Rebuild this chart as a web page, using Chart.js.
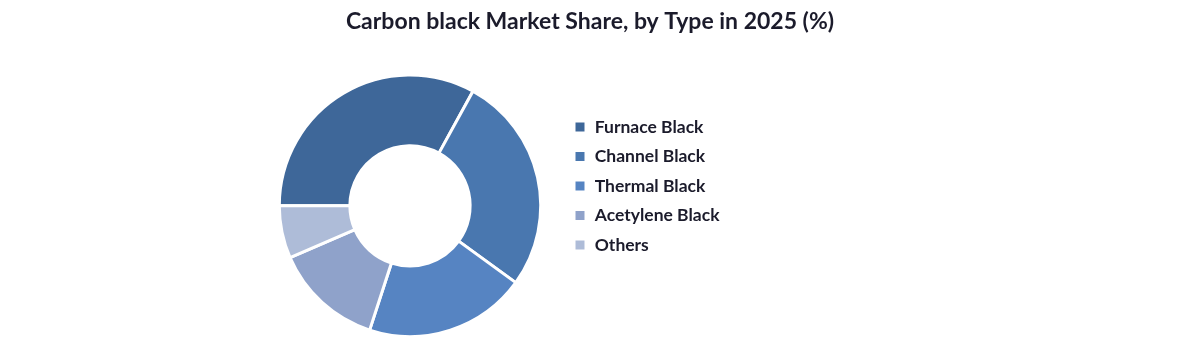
<!DOCTYPE html>
<html>
<head>
<meta charset="utf-8">
<script src="https://cdn.jsdelivr.net/npm/chart.js@4.4.1/dist/chart.umd.min.js"></script>
<style>
  html, body { margin: 0; padding: 0; background: #fff; }
  #wrap { width: 1180px; height: 344px; position: relative; }
</style>
</head>
<body>
<div id="wrap"><canvas id="share-chart"></canvas></div>
<script>
var labels = ['Furnace Black', 'Channel Black', 'Thermal Black', 'Acetylene Black', 'Others'];
var shares = [33, 27, 20, 13.5, 6.5];
var colors = ['#3e6799', '#4977af', '#5684c2', '#8fa2ca', '#aebcd8'];
var chartTitle = 'Carbon black Market Share, by Type in 2025 (%)';

// widen the legend box so the doughnut sits left while the title stays centred
const legendWidth = {
    id: 'legendWidth',
    beforeLayout(chart) {
        const legend = chart.legend;
        if (legend && !legend._patched) {
            const origFit = legend.fit;
            legend.fit = function () {
                origFit.call(this);
                this.width = 360;
            };
            legend._patched = true;
        }
    }
};

const ctx = document.getElementById('share-chart').getContext('2d');
var myChart = new Chart(ctx, {
    type: 'doughnut',
    data: {
        labels: labels,
        datasets: [{
            data: shares,
            backgroundColor: colors,
            borderColor: '#ffffff',
            borderWidth: 3
        }]
    },
    options: {
        responsive: true,
        maintainAspectRatio: false,
        animation: false,
        rotation: -90,
        cutout: '46%',
        layout: {
            padding: { left: 258, right: 258, top: 0, bottom: 6 }
        },
        plugins: {
            title: {
                display: true,
                text: chartTitle,
                color: '#1b1b2b',
                font: { family: 'Lato', size: 23, weight: 'bold' },
                padding: { top: 8, bottom: 38 }
            },
            legend: {
                position: 'right',
                align: 'center',
                title: {
                    display: true,
                    text: ' ',
                    font: { size: 10 },
                    padding: { top: 11, bottom: 11 }
                },
                labels: {
                    color: '#1b1b2b',
                    font: { family: 'Lato', size: 17.5, weight: 'bold' },
                    boxWidth: 12,
                    boxHeight: 12,
                    padding: 12
                }
            },
            tooltip: { enabled: false }
        }
    },
    plugins: [legendWidth]
});
</script>
</body>
</html>
